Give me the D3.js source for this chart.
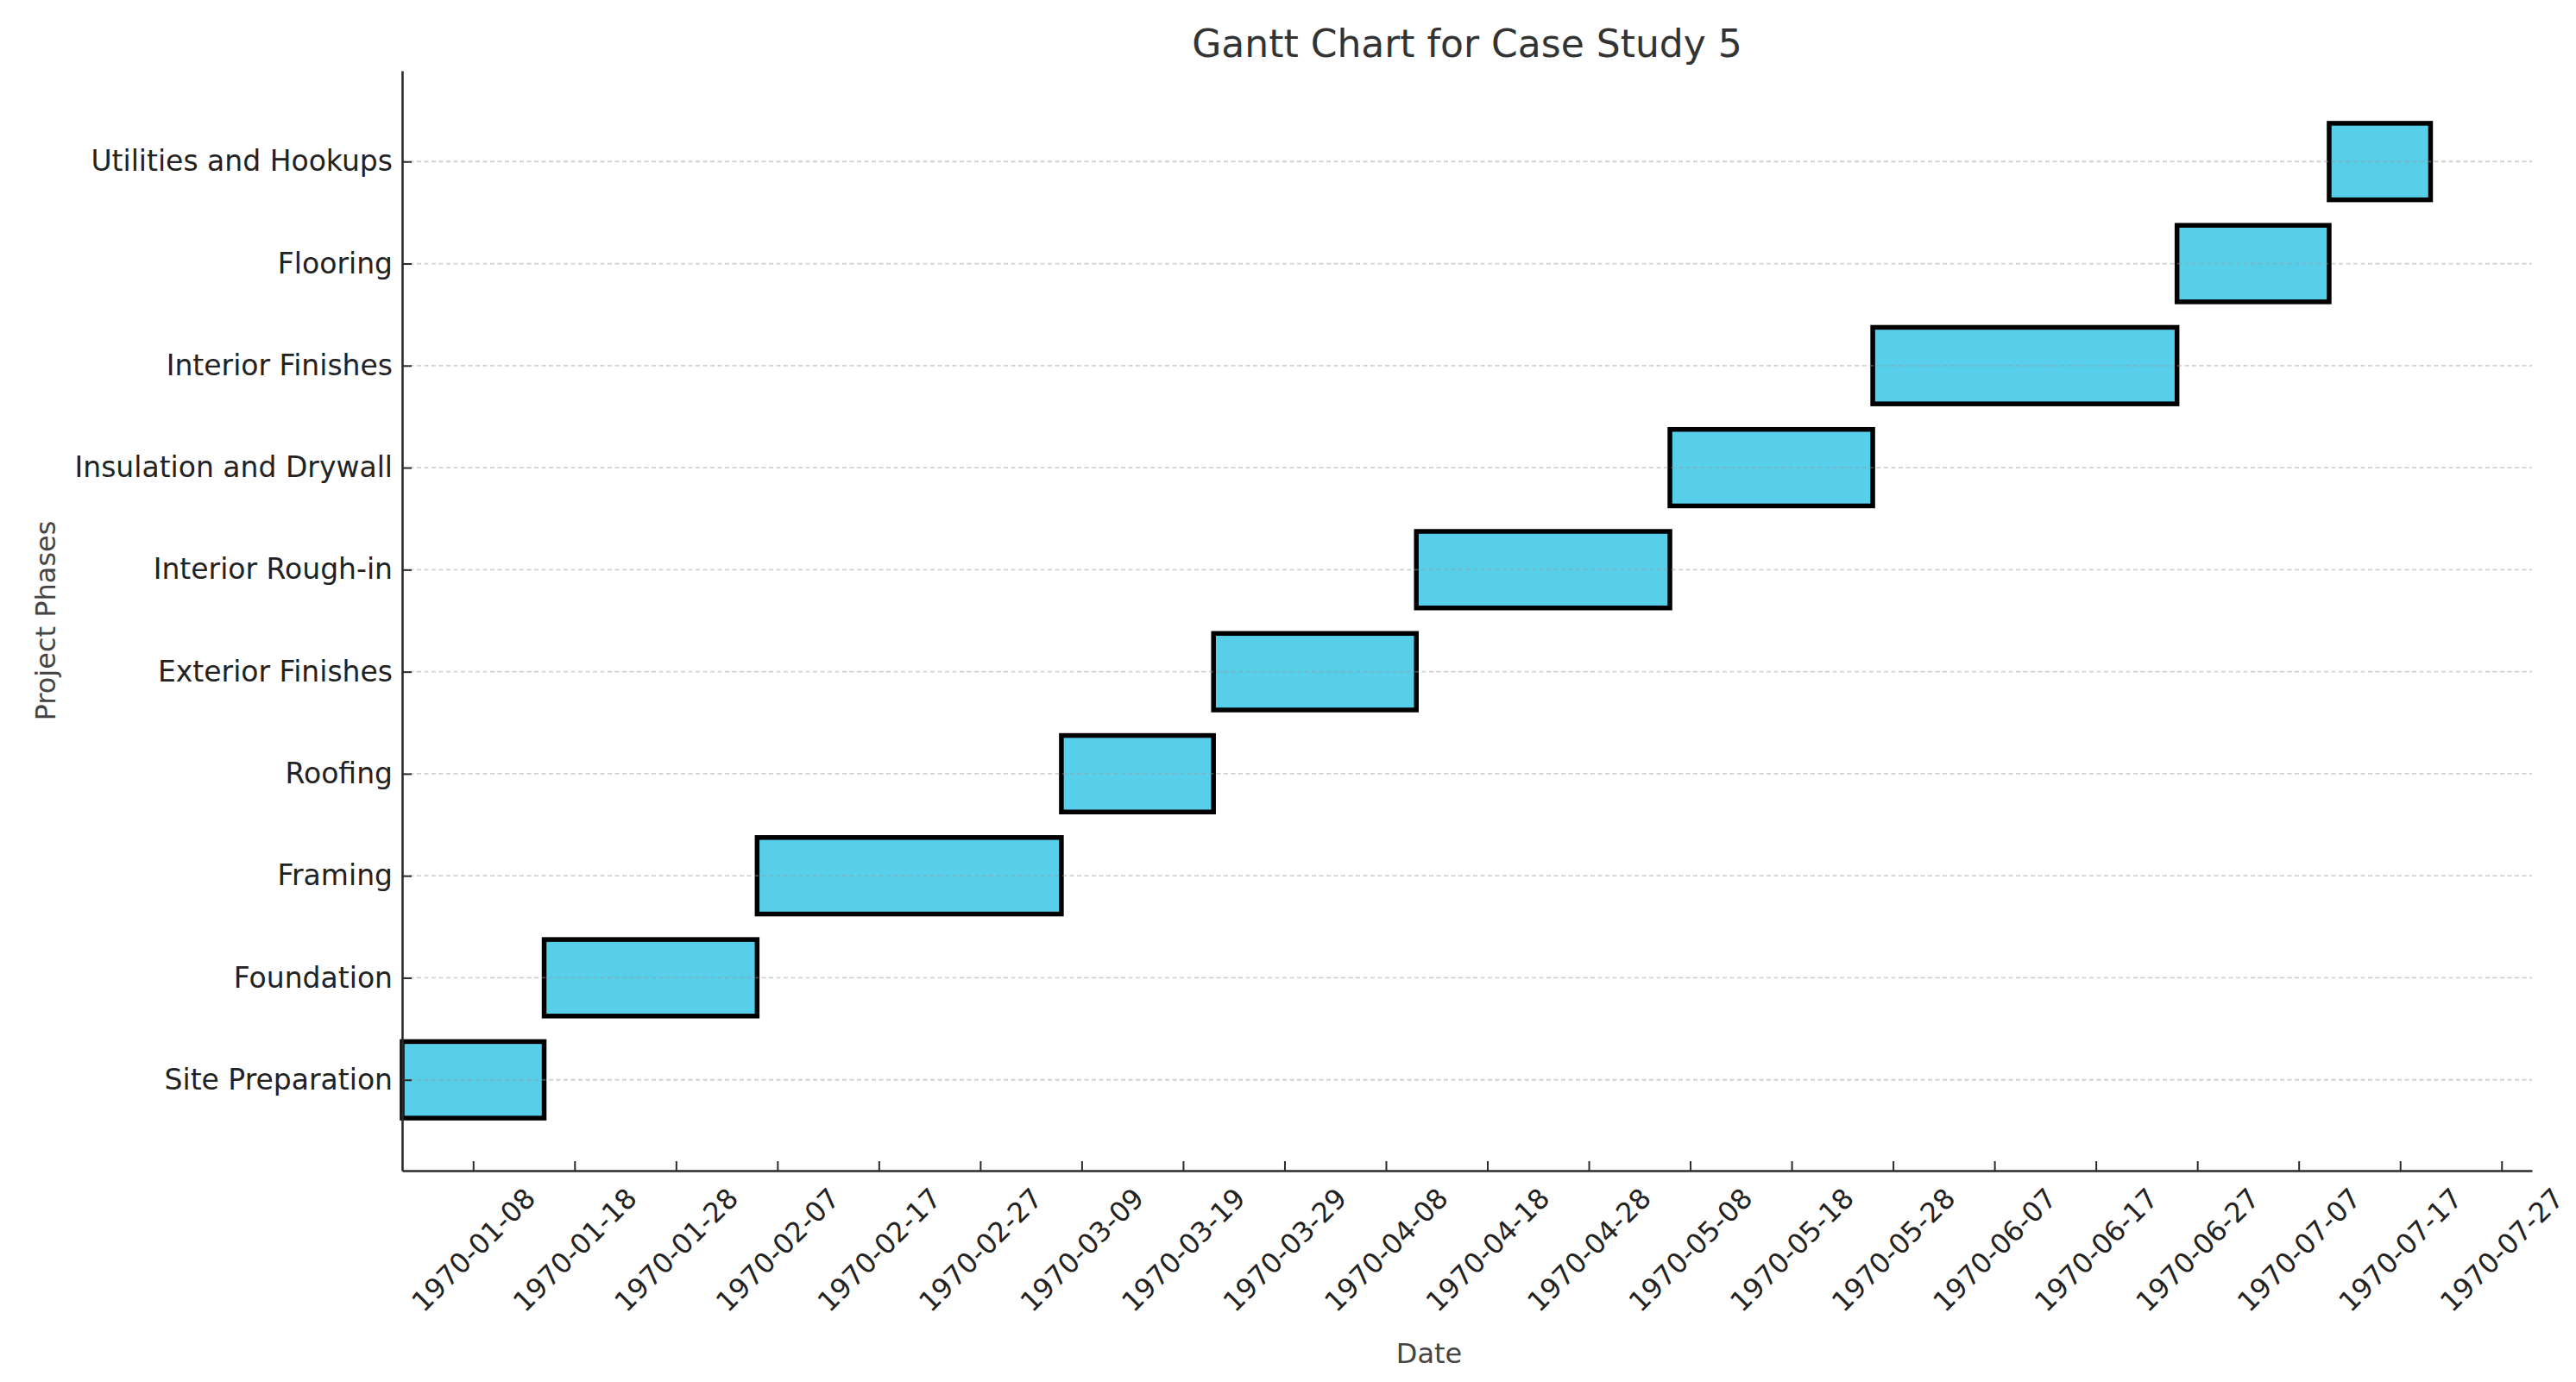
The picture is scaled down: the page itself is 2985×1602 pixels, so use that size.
<!DOCTYPE html>
<html lang="en">
<head>
    <meta charset="utf-8">
    <title>Gantt Chart for Case Study 5</title>
    <script src="https://d3js.org/d3.v7.min.js"></script>
    <style>
        body { margin: 0; background: #fff; }
        text { font-family: "DejaVu Sans", sans-serif; }
    </style>
</head>
<body>
    <div id="chart"></div>

    <script>
        // Phases from bottom to top
        const phases = [
            "Site Preparation", "Foundation", "Framing", "Roofing", "Exterior Finishes",
            "Interior Rough-in", "Insulation and Drywall", "Interior Finishes", "Flooring",
            "Utilities and Hookups"
        ];
        const startDates = [
            "1970-01-01", "1970-01-15", "1970-02-05", "1970-03-07", "1970-03-22",
            "1970-04-11", "1970-05-06", "1970-05-26", "1970-06-25", "1970-07-10"
        ];
        const endDates = [
            "1970-01-15", "1970-02-05", "1970-03-07", "1970-03-22", "1970-04-11",
            "1970-05-06", "1970-05-26", "1970-06-25", "1970-07-10", "1970-07-20"
        ];
        const tickDates = [
            "1970-01-08", "1970-01-18", "1970-01-28", "1970-02-07", "1970-02-17",
            "1970-02-27", "1970-03-09", "1970-03-19", "1970-03-29", "1970-04-08",
            "1970-04-18", "1970-04-28", "1970-05-08", "1970-05-18", "1970-05-28",
            "1970-06-07", "1970-06-17", "1970-06-27", "1970-07-07", "1970-07-17",
            "1970-07-27"
        ];
        const xRange = ["1970-01-01", "1970-07-30"];

        const width = 2985;
        const height = 1602;
        const plotLeft = 466, plotRight = 2934, plotTop = 82, plotBottom = 1357;

        const parse = d3.utcParse("%Y-%m-%d");
        const fmt = d3.utcFormat("%Y-%m-%d");

        const svg = d3.select("#chart").append("svg")
            .attr("width", width)
            .attr("height", height)
            .attr("viewBox", [0, 0, width, height]);

        svg.append("rect").attr("width", width).attr("height", height).attr("fill", "#fff");

        const x = d3.scaleUtc()
            .domain(xRange.map(parse))
            .range([plotLeft, plotRight]);

        const y = d3.scaleLinear()
            .domain([-0.89, phases.length - 1 + 0.89])
            .range([plotBottom, plotTop]);

        const barH = y(0) - y(0.75);

        // bars
        svg.append("g")
            .selectAll("rect")
            .data(phases)
            .join("rect")
            .attr("x", (d, i) => x(parse(startDates[i])))
            .attr("width", (d, i) => x(parse(endDates[i])) - x(parse(startDates[i])))
            .attr("y", (d, i) => y(i) - barH / 2)
            .attr("height", barH)
            .attr("fill", "#57cfeb")
            .attr("stroke", "#000")
            .attr("stroke-width", 5.5);

        // dashed horizontal grid, drawn over the bars like the original
        svg.append("g")
            .selectAll("line")
            .data(phases)
            .join("line")
            .attr("x1", plotLeft)
            .attr("x2", plotRight)
            .attr("y1", (d, i) => y(i))
            .attr("y2", (d, i) => y(i))
            .attr("stroke", "#999")
            .attr("stroke-opacity", 0.45)
            .attr("stroke-width", 1.8)
            .attr("stroke-dasharray", "5,3.5");

        // x axis
        const xAxis = svg.append("g")
            .attr("transform", `translate(0,${plotBottom})`)
            .call(d3.axisBottom(x)
                .tickValues(tickDates.map(parse))
                .tickFormat(fmt)
                .tickSizeInner(-11)
                .tickSizeOuter(0));

        xAxis.select(".domain").attr("stroke", "#2b2b2b").attr("stroke-width", 2.6);
        xAxis.selectAll(".tick line").attr("stroke", "#2b2b2b").attr("stroke-width", 2);
        xAxis.selectAll(".tick text")
            .attr("y", null)
            .attr("dy", null)
            .attr("fill", "#222")
            .attr("font-size", 32)
            .attr("font-family", "DejaVu Sans")
            .attr("text-anchor", "middle")
            .attr("dominant-baseline", "central")
            .attr("transform", "translate(0,92) rotate(-45)");

        // y axis
        const yAxis = svg.append("g")
            .attr("transform", `translate(${plotLeft},0)`)
            .call(d3.axisLeft(y)
                .tickValues(d3.range(phases.length))
                .tickFormat(i => phases[i])
                .tickSizeInner(-11)
                .tickSizeOuter(0)
                .tickPadding(11));

        yAxis.select(".domain").attr("stroke", "#2b2b2b").attr("stroke-width", 2.6);
        yAxis.selectAll(".tick line").attr("stroke", "#2b2b2b").attr("stroke-width", 2);
        yAxis.selectAll(".tick text")
            .attr("x", -11)
            .attr("fill", "#222")
            .attr("font-size", 33)
            .attr("font-family", "DejaVu Sans");

        // titles
        svg.append("text")
            .attr("x", (plotLeft + plotRight) / 2)
            .attr("y", 50)
            .attr("text-anchor", "middle")
            .attr("dominant-baseline", "central")
            .attr("font-size", 44)
            .attr("fill", "#333")
            .text("Gantt Chart for Case Study 5");

        svg.append("text")
            .attr("x", 1656)
            .attr("y", 1569)
            .attr("text-anchor", "middle")
            .attr("dominant-baseline", "central")
            .attr("font-size", 32)
            .attr("fill", "#444")
            .text("Date");

        svg.append("text")
            .attr("transform", `translate(53,${(plotTop + plotBottom) / 2}) rotate(-90)`)
            .attr("text-anchor", "middle")
            .attr("dominant-baseline", "central")
            .attr("font-size", 32)
            .attr("fill", "#444")
            .text("Project Phases");
    </script>
</body>
</html>
